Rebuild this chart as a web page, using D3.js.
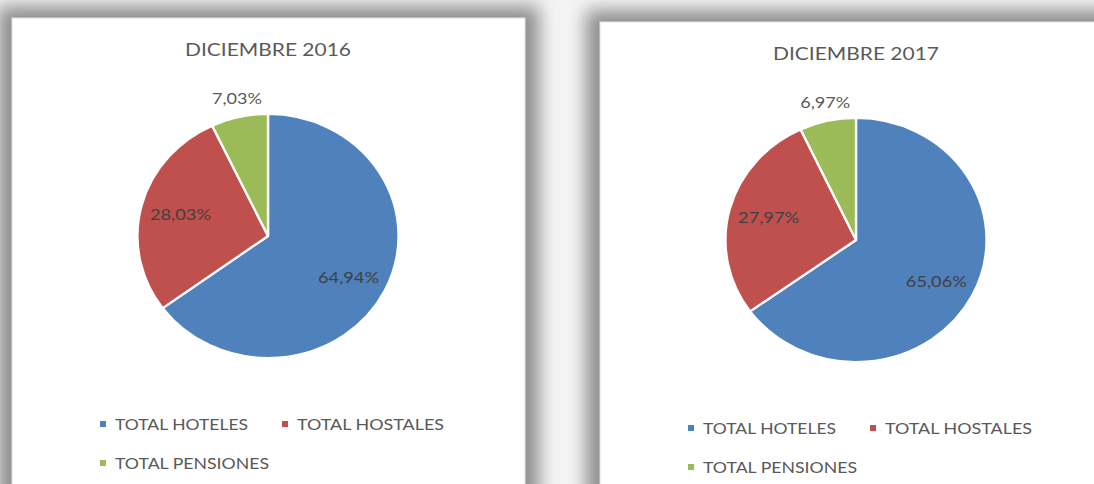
<!DOCTYPE html>
<html>
<head>
<meta charset="utf-8">
<script src="https://cdn.jsdelivr.net/npm/d3@7"></script>
<style>
	html, body { margin: 0; padding: 0; background: #ffffff; overflow: hidden; }
	svg { display: block; }
	text { font-family: Lato, "Open Sans", sans-serif; }
</style>
</head>
<body>
<svg id="chart" width="1094" height="484"></svg>
<script>
// data
const titles = ["DICIEMBRE 2016", "DICIEMBRE 2017"];
const categories = ["TOTAL HOTELES", "TOTAL HOSTALES", "TOTAL PENSIONES"];
const values2016 = [64.94, 28.03, 7.03];
const values2017 = [65.06, 27.97, 6.97];
const colors = ["#4f81bd", "#c0504d", "#9bbb59"];

const W = 1094, H = 484;
// each chart sits on a white card with a soft shadow
const panels = [
	{x: 12, y: 18, w: 513, title: titles[0], values: values2016},
	{x: 600, y: 22, w: 513, title: titles[1], values: values2017}
];

const svg = d3.select("#chart");
svg.append("rect").attr("width", W).attr("height", H).style("fill", "#f4f4f4");

const defs = svg.append("defs");
defs.append("filter").attr("id", "shadow")
	.attr("x", "-20%").attr("y", "-20%").attr("width", "140%").attr("height", "140%")
	.append("feGaussianBlur").attr("stdDeviation", 9);

const color = d3.scaleOrdinal().domain(categories).range(colors);
const fmt = v => d3.format(".2f")(v).replace(".", ",") + "%";

function drawPanel(p)
{
	// shadow then card
	svg.append("rect")
		.attr("x", p.x - 14).attr("y", p.y - 12)
		.attr("width", p.w + 28).attr("height", 600)
		.style("fill", "#8e8e8e")
		.attr("filter", "url(#shadow)");
	svg.append("rect")
		.attr("x", p.x).attr("y", p.y)
		.attr("width", p.w).attr("height", 600)
		.style("fill", "#ffffff")
		.style("stroke", "#e2e2e2")
		.style("stroke-width", 1);

	const g = svg.append("g").attr("transform", `translate(${p.x},${p.y})`);
	const cx = 256, cy = 218, r = 122, sx = 1.07;

	g.append("text")
		.attr("x", cx).attr("y", 38)
		.attr("text-anchor", "middle")
		.attr("textLength", 166).attr("lengthAdjust", "spacingAndGlyphs")
		.style("font-size", "17px")
		.style("fill", "#595959")
		.text(p.title);

	const rows = categories.map((c, i) => ({cat: c, value: p.values[i]}));
	const pie = d3.pie().sort(null).value(d => d.value);
	const arcs = pie(rows);
	const arc = d3.arc().innerRadius(0).outerRadius(r);

	const pieG = g.append("g")
		.attr("transform", `translate(${cx},${cy}) scale(${sx},1)`);
	pieG.selectAll("path")
		.data(arcs)
		.enter()
		.append("path")
		.attr("d", arc)
		.style("fill", d => color(d.data.cat))
		.style("stroke", "#ffffff")
		.style("stroke-width", 2.2)
		.style("stroke-linejoin", "round");

	// labels: small slices go outside, the rest inside
	const inner = d3.arc().innerRadius(r * 0.74).outerRadius(r * 0.74);
	const outer = d3.arc().innerRadius(r * 1.16).outerRadius(r * 1.16);
	g.selectAll("text.lbl")
		.data(arcs)
		.enter()
		.append("text")
		.attr("class", "lbl")
		.each(function(d) {
			const out = d.data.value < 10;
			const c = (out ? outer : inner).centroid(d);
			d3.select(this)
				.attr("x", cx + c[0] * (out ? 1 : 1.0))
				.attr("y", cy + c[1])
				.attr("dy", "0.36em")
				.attr("text-anchor", "middle")
				.attr("textLength", out ? 50 : 61)
				.attr("lengthAdjust", "spacingAndGlyphs")
				.style("font-size", "16px")
				.style("fill", out ? "#595959" : "#404040")
				.text(fmt(d.data.value));
		});

	// legend
	const legendPos = [[88, 412], [270, 412], [88, 451]];
	const textLen = [133, 147, 154];
	const lg = g.selectAll("g.legend")
		.data(categories)
		.enter()
		.append("g")
		.attr("class", "legend")
		.attr("transform", (d, i) => `translate(${legendPos[i][0]},${legendPos[i][1]})`);
	lg.append("rect")
		.attr("x", 0).attr("y", -9)
		.attr("width", 6).attr("height", 6)
		.style("fill", d => color(d));
	lg.append("text")
		.attr("x", 15).attr("y", 0)
		.attr("textLength", (d, i) => textLen[i])
		.attr("lengthAdjust", "spacingAndGlyphs")
		.style("font-size", "15.5px")
		.style("fill", "#595959")
		.text(d => d);
}

panels.forEach(drawPanel);
</script>
</body>
</html>
